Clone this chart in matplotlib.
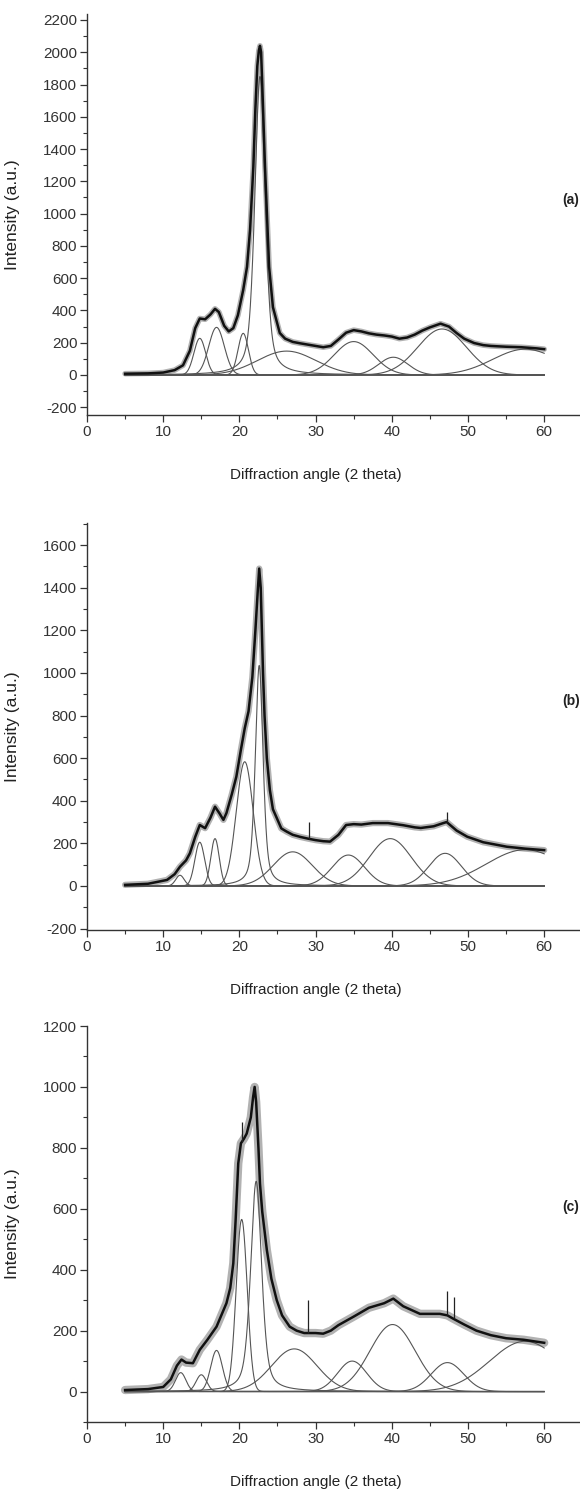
import numpy as np
import matplotlib
matplotlib.use("Agg")
import matplotlib.pyplot as plt
from matplotlib.ticker import MultipleLocator

plt.rcParams['font.family'] = ['Liberation Sans', 'DejaVu Sans']
plt.rcParams['axes.unicode_minus'] = False

xa_meas = [5, 8, 10, 11.5, 12.6, 13.5, 14.2, 14.8, 15.5, 16.2, 16.8, 17.3, 18.0, 18.6, 19.2,
           19.8, 20.5, 21.0, 21.4, 21.83, 22.1, 22.35, 22.55, 22.7, 22.85, 23.0, 23.36, 23.9,
           24.4, 25.3, 26.0, 27.0, 28.0, 29.0, 30.0, 31.0, 32.0, 33.0, 34.0, 35.0, 36.0, 37.0,
           38.0, 39.0, 40.0, 41.0, 42.0, 43.0, 44.0, 45.0, 46.4, 47.5, 48.5, 49.5, 50.8, 52.0,
           53.0, 55.0, 57.0, 59.0, 60.0]
ya_meas = [8, 10, 15, 30, 60, 150, 290, 350, 345, 375, 410, 390, 305, 270, 290,
           370, 527, 670, 900, 1290, 1650, 1915, 2010, 2040, 2000, 1800, 1290, 670,
           420, 260, 225, 205, 196, 188, 180, 172, 180, 220, 262, 278, 270, 258,
           250, 245, 238, 225, 232, 250, 275, 295, 318, 300, 260, 225, 198, 185,
           180, 175, 172, 165, 160]

xb_meas = [5, 8, 10.5, 11.5, 12.2, 13.0, 13.5, 14.2, 14.8, 15.5, 16.2, 16.8, 17.4, 17.9, 18.3,
           19.0, 19.6, 20.2, 20.7, 21.2, 21.7, 22.1, 22.4, 22.6, 22.8, 23.1, 23.3, 23.6, 24.0,
           24.4, 25.5, 26.2, 27.0, 28.0, 29.0, 30.0, 31.0, 31.9, 33.0, 34.0, 35.0, 36.0, 37.5,
           39.5, 41.5, 43.0, 43.8, 45.5, 46.5, 47.2, 48.5, 49.9, 52.0, 55.1, 57.5, 60.0]
yb_meas = [5, 10, 28, 55, 90, 120, 153, 230, 286, 271, 320, 372, 340, 310, 342,
           430, 513, 640, 740, 820, 980, 1200, 1380, 1490, 1400, 1000, 800, 600, 450,
           360, 270, 255, 240, 230, 222, 215, 210, 208, 240, 286, 290, 288, 295,
           295, 285, 275, 272, 280, 292, 300, 260, 231, 205, 184, 175, 168]

xc_meas = [5, 8, 10, 11.0, 11.8, 12.4, 13.0, 13.9, 14.8, 15.8, 17.0, 18.3, 18.8, 19.2, 19.5,
           19.85, 20.2, 20.6, 20.96, 21.5, 21.8, 22.0, 22.2, 22.5, 22.7, 23.0, 23.6, 24.2, 24.9,
           25.6, 26.6, 27.5, 28.5, 30.0, 31.0, 32.0, 33.0, 35.0, 37.0, 39.0, 40.2, 41.5, 43.7,
           46.3, 47.3, 48.0, 49.5, 51.1, 53.0, 55.0, 57.3, 60.0]
yc_meas = [5, 8, 15, 40, 85, 105, 95, 93, 137, 170, 213, 290, 340, 421, 560,
           749, 815, 830, 847, 900, 967, 1000, 950, 800, 683, 590, 465, 370, 300,
           250, 213, 200, 192, 192, 190, 200, 218, 246, 275, 290, 305, 280, 255,
           255, 250, 240, 220, 200, 185, 175, 170, 160]

# narrow spikes: position, curve level under it, tip
b_spk_x = [29.1, 47.2]
b_spk_base = [220, 300]
b_spk_top = [300, 345]
c_spk_x = [20.3, 29.0, 47.3, 48.1]
c_spk_base = [820, 192, 250, 240]
c_spk_top = [885, 300, 330, 310]

# === fitted components: centre (2 theta), height, FWHM, lorentzian fraction ===
a_centers = [14.8, 17.0, 20.5, 22.7, 26.2, 35.0, 40.2, 46.6, 57.5]
a_heights = [227, 295, 258, 1850, 148, 207, 110, 285, 160]
a_fwhm    = [1.8, 2.4, 1.6, 1.6, 9.0, 6.0, 4.5, 7.5, 10.0]
a_eta     = [0, 0, 0, 0.5, 0, 0, 0, 0, 0]

b_centers = [12.2, 14.8, 16.8, 20.7, 22.6, 27.0, 34.3, 39.8, 47.0, 57.5]
b_heights = [50, 205, 222, 583, 1035, 160, 145, 222, 153, 170]
b_fwhm    = [1.3, 1.5, 1.3, 2.6, 1.2, 6.0, 5.0, 6.5, 5.0, 12.0]
b_eta     = [0, 0, 0, 0, 0.5, 0, 0, 0, 0, 0]

c_centers = [12.3, 15.0, 17.0, 20.3, 22.2, 27.2, 34.8, 40.1, 47.3, 57.5]
c_heights = [62, 55, 135, 565, 690, 140, 100, 220, 95, 165]
c_fwhm    = [1.6, 1.6, 1.8, 1.7, 1.7, 7.0, 4.5, 7.0, 5.0, 11.0]
c_eta     = [0, 0, 0, 0, 0.5, 0, 0, 0, 0, 0]

panels = [
    dict(tag="(a)", xm=xa_meas, ym=ya_meas, spk=([], [], []),
         cen=a_centers, h=a_heights, w=a_fwhm, eta=a_eta,
         ylim=(-248, 2237), top=14, bottom=415, ytag=200, halo=4.0),
    dict(tag="(b)", xm=xb_meas, ym=yb_meas, spk=(b_spk_x, b_spk_base, b_spk_top),
         cen=b_centers, h=b_heights, w=b_fwhm, eta=b_eta,
         ylim=(-207, 1704), top=523, bottom=930, ytag=701, halo=4.5),
    dict(tag="(c)", xm=xc_meas, ym=yc_meas, spk=(c_spk_x, c_spk_base, c_spk_top),
         cen=c_centers, h=c_heights, w=c_fwhm, eta=c_eta,
         ylim=(-100, 1200), top=1026, bottom=1422, ytag=1207, halo=6.0),
]

W, H = 580, 1492
X0 = 87          # left spine (px)
XMAX = 64.7      # x axis runs off the right edge


def pvoigt(x, c, h, w, eta):
    g = np.exp(-4 * np.log(2) * ((x - c) / w) ** 2)
    l = 1 / (1 + (2 * (x - c) / w) ** 2)
    return h * (eta * l + (1 - eta) * g)


fig = plt.figure(figsize=(W / 100, H / 100), dpi=100)
xx = np.linspace(5, 60, 1500)

for p in panels:
    ax = fig.add_axes([X0 / W, 1 - p['bottom'] / H, (W - X0) / W,
                       (p['bottom'] - p['top']) / H])

    # components
    for c, h, w, e in zip(p['cen'], p['h'], p['w'], p['eta']):
        ax.plot(xx, pvoigt(xx, c, h, w, e), color='#555555', lw=0.8)

    # measured pattern (noisy band + core)
    ax.plot(p['xm'], p['ym'], color='#555555', lw=p['halo'], alpha=0.45,
            solid_joinstyle='round', solid_capstyle='round')
    ax.plot(p['xm'], p['ym'], color='#111111', lw=1.8, solid_joinstyle='round')
    sx, sb, st = p['spk']
    if sx:
        ax.vlines(sx, sb, st, color='#222222', lw=0.9)

    ax.set_xlim(0, XMAX)
    ax.set_ylim(*p['ylim'])
    ax.xaxis.set_major_locator(MultipleLocator(10))
    ax.xaxis.set_minor_locator(MultipleLocator(5))
    ax.yaxis.set_major_locator(MultipleLocator(200))
    ax.yaxis.set_minor_locator(MultipleLocator(100))

    for s in ['top', 'right']:
        ax.spines[s].set_visible(False)
    for s in ['left', 'bottom']:
        ax.spines[s].set_color('#333333')
        ax.spines[s].set_linewidth(1.0)

    ax.tick_params(which='major', direction='out', length=5, width=0.9,
                   color='#333333', labelsize=11, labelcolor='#333333', pad=2)
    ax.tick_params(which='minor', direction='out', length=3, width=0.8, color='#333333')

    ax.set_xlabel("Diffraction angle (2 theta)", fontsize=11, color='#222222')
    ax.set_ylabel("Intensity (a.u.)", fontsize=12.5, color='#222222')
    ax.xaxis.set_label_coords(30 / XMAX, -53 / (p['bottom'] - p['top']))
    ax.yaxis.set_label_coords(-(X0 - 20) / (W - X0), 0.5)

    fig.text(562 / W, 1 - p['ytag'] / H, p['tag'], fontsize=10, fontweight='bold',
             ha='left', va='center', color='#222222')

fig.savefig("out.png", dpi=100)
